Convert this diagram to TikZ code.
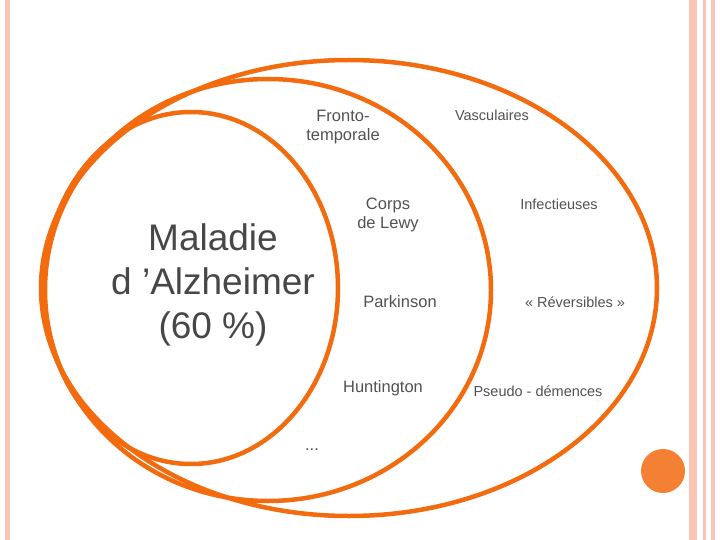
\documentclass[tikz,border=0pt]{standalone}
\usepackage{fontspec}
\setmainfont{Liberation Sans}
\begin{document}
\begin{tikzpicture}[x=1pt,y=-1pt,
  lab/.style={text=black!68,font=\fontsize{16.5}{19}\selectfont,align=center},
  smalllab/.style={text=black!68,font=\fontsize{14.5}{17}\selectfont,align=center}]
\definecolor{ringc}{HTML}{F26B0F}
\definecolor{pinkl}{HTML}{F9C6B6}
\useasboundingbox (0,0) rectangle (720,540);
\fill[white] (0,0) rectangle (720,540);
\fill[pinkl] (5,0) rectangle (10,540);
\fill[pinkl] (689,0) rectangle (697,540);
\fill[pinkl] (703,0) rectangle (706,540);
\fill[pinkl] (711,0) rectangle (715,540);
\draw[line width=4.5pt,draw=ringc] (349,288) ellipse [x radius=308,y radius=228];
\draw[line width=4.5pt,draw=ringc] (268,290) ellipse [x radius=223,y radius=211];
\draw[line width=4.5pt,draw=ringc] (191,288) ellipse [x radius=147,y radius=176];
\fill[ringc!85!white] (663,471) circle (22);
\node[text=black!72,font=\fontsize{37}{44}\selectfont,align=center] (alz) at (213,285) {Maladie\\d 'Alzheimer\\(60 \%)};
\node[lab] (ft) at (343,127) {Fronto-\\temporale};
\node[lab] (cl) at (388,215) {Corps\\de Lewy};
\node[lab] (pk) at (400,302) {Parkinson};
\node[lab] (hu) at (383,388) {Huntington};
\node[lab] (dots) at (312,450) {...};
\node[smalllab] (va) at (492,115) {Vasculaires};
\node[smalllab] (inf) at (559,204) {Infectieuses};
\node[smalllab] (rev) at (575,302) {« Réversibles »};
\node[smalllab] (ps) at (538,391) {Pseudo - démences};
\end{tikzpicture}
\end{document}
